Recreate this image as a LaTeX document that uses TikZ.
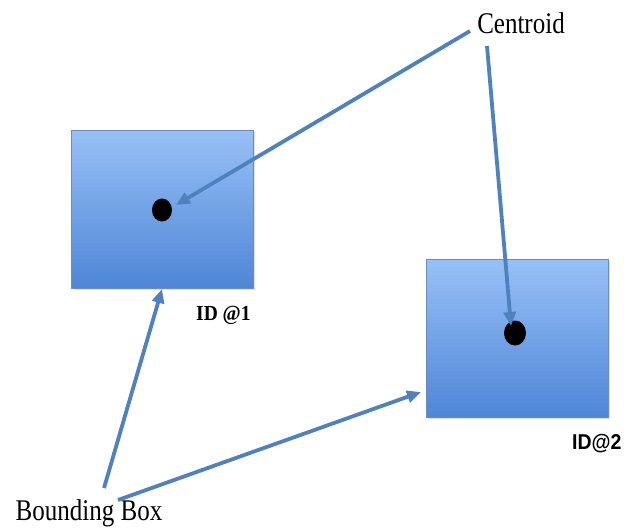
\documentclass[tikz,border=0pt]{standalone}
\usepackage{fontspec}
\usepackage{graphicx}
\setmainfont{Liberation Serif}
\newfontfamily\arialbold{Liberation Sans Bold}
\usetikzlibrary{arrows.meta,shadows,shapes.geometric}
\definecolor{arrowblue}{RGB}{79,129,189}
\definecolor{boxtop}{RGB}{152,192,247}
\definecolor{boxbot}{RGB}{78,134,214}
\definecolor{boxedge}{RGB}{110,140,185}
\tikzset{
  bbox/.style={draw=boxedge, line width=0.6pt, top color=boxtop, bottom color=boxbot, minimum width=182pt, minimum height=158pt, inner sep=0pt, drop shadow={shadow xshift=1.5pt, shadow yshift=-1.5pt, opacity=0.25}},
  cdot/.style={fill=black, ellipse, inner sep=0pt},
  conn/.style={draw=arrowblue, line width=3.8pt, -{Triangle[length=14pt,width=12pt]}},
  lbl/.style={font=\fontsize{25}{28}\selectfont, inner sep=0pt},
}
\begin{document}
\begin{tikzpicture}[x=1pt,y=-1pt]
\useasboundingbox (0,0) rectangle (624,531);
\node[bbox] (box1) at (162,209) {};
\node[bbox] (box2) at (517,338.5) {};
\node[cdot, minimum width=20pt, minimum height=23pt] (dot1) at (162,210) {};
\node[cdot, minimum width=22pt, minimum height=25pt] (dot2) at (515,333) {};
\node[lbl, anchor=base] (centroid) at (521,33) {\scalebox{1}[1.2]{Centroid}};
\node[lbl, anchor=base] (bbtext) at (89,520) {\scalebox{1}[1.2]{Bounding Box}};
\node[anchor=base west, inner sep=0pt, font=\fontsize{19.5}{22}\selectfont\bfseries] (id1) at (196,320) {\scalebox{1}[1.1]{ID @1}};
\node[anchor=base west, inner sep=0pt, font=\arialbold\fontsize{19.5}{22}\selectfont] (id2) at (572,449) {\scalebox{1}[1.1]{ID@2}};
\coordinate (c1) at (470,31);
\coordinate (c2) at (487,46);
\coordinate (b1) at (104,488);
\coordinate (b2) at (118,500);
\coordinate (t1) at (176,205);
\coordinate (t2) at (511,326);
\coordinate (t3) at (162,289);
\coordinate (t4) at (421,392);
\draw[conn] (c1) -- (t1);
\draw[conn] (c2) -- (t2);
\draw[conn] (b1) -- (t3);
\draw[conn] (b2) -- (t4);
\end{tikzpicture}
\end{document}
